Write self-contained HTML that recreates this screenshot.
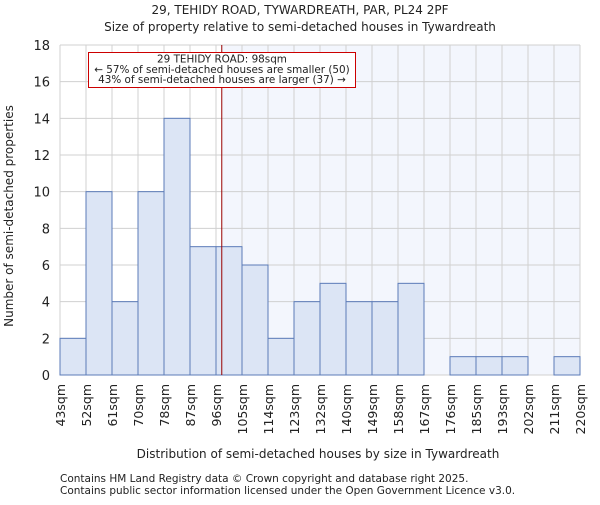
<!DOCTYPE html>
<html><head><meta charset="utf-8"><style>
body{margin:0;background:#fff;}
svg text{font-family:"DejaVu Sans","Liberation Sans",sans-serif;fill:#222;}
</style></head><body>
<svg id="chart" width="600" height="500" xmlns="http://www.w3.org/2000/svg">
<text x="300" y="14" text-anchor="middle" font-size="12">29, TEHIDY ROAD, TYWARDREATH, PAR, PL24 2PF</text>
<text x="300" y="31" text-anchor="middle" font-size="12">Size of property relative to semi-detached houses in Tywardreath</text>
<g id="plot"></g>
<text x="318" y="458" text-anchor="middle" font-size="12">Distribution of semi-detached houses by size in Tywardreath</text>
<text transform="translate(13,216) rotate(-90)" text-anchor="middle" font-size="12">Number of semi-detached properties</text>
<text x="60" y="482" font-size="10.5">Contains HM Land Registry data © Crown copyright and database right 2025.</text>
<text x="60" y="494" font-size="10.5">Contains public sector information licensed under the Open Government Licence v3.0.</text>
</svg>
<script>
const categories=["43sqm","52sqm","61sqm","70sqm","78sqm","87sqm","96sqm","105sqm","114sqm","123sqm","132sqm","140sqm","149sqm","158sqm","167sqm","176sqm","185sqm","193sqm","202sqm","211sqm","220sqm"];
const counts=[2,10,4,10,14,7,7,6,2,4,5,4,4,5,0,1,1,1,0,1];
const yTicks=[0,2,4,6,8,10,12,14,16,18];
const propertyPos=6.222;
const NS="http://www.w3.org/2000/svg";
const X0=60,X1=580,Y0=375,Y1=45,YMAX=18;
const bw=(X1-X0)/counts.length;
const xs=i=>X0+i*bw;
const ys=v=>Y0-(v/YMAX)*(Y0-Y1);
const g=document.getElementById('plot');
function mk(t,a){const e=document.createElementNS(NS,t);for(const k in a)e.setAttribute(k,a[k]);g.appendChild(e);return e;}
const px=xs(propertyPos);
let sh=mk('rect',{x:px,y:Y1,width:X1-px,height:Y0-Y1,fill:'#f3f6fd'});


for(let i=0;i<=counts.length;i++){let l=mk('line',{x1:xs(i),x2:xs(i),y1:Y1,y2:Y0,stroke:'#d0d0d0','stroke-width':1});

}
yTicks.forEach(t=>{let l=mk('line',{x1:X0,x2:X1,y1:ys(t),y2:ys(t),stroke:'#d0d0d0','stroke-width':1});


let tx=mk('text',{x:X0-10,y:ys(t)+5,'text-anchor':'end','font-size':13});tx.textContent=t;

});
counts.forEach((v,i)=>{if(v<=0)return;let r=mk('rect',{x:xs(i),y:ys(v),width:bw,height:Y0-ys(v),fill:'#dce5f5',stroke:'#5b7bb8','stroke-width':1});

});
categories.forEach((c,i)=>{let tx=mk('text',{transform:`translate(${xs(i)+5},${Y0+9}) rotate(-90)`,'text-anchor':'end','font-size':12.5});tx.textContent=c;

});
let pl=mk('line',{x1:px,x2:px,y1:Y1,y2:Y0,stroke:'#990000','stroke-width':1});


let bx=mk('rect',{x:88.5,y:52.5,width:267,height:35,fill:'#fff',stroke:'#cc0000','stroke-width':1});


["29 TEHIDY ROAD: 98sqm","← 57% of semi-detached houses are smaller (50)","43% of semi-detached houses are larger (37) →"].forEach((s,i)=>{let tx=mk('text',{x:222,y:62.5+i*10.3,'text-anchor':'middle','font-size':10.4});tx.textContent=s;

});
</script>
</body></html>
